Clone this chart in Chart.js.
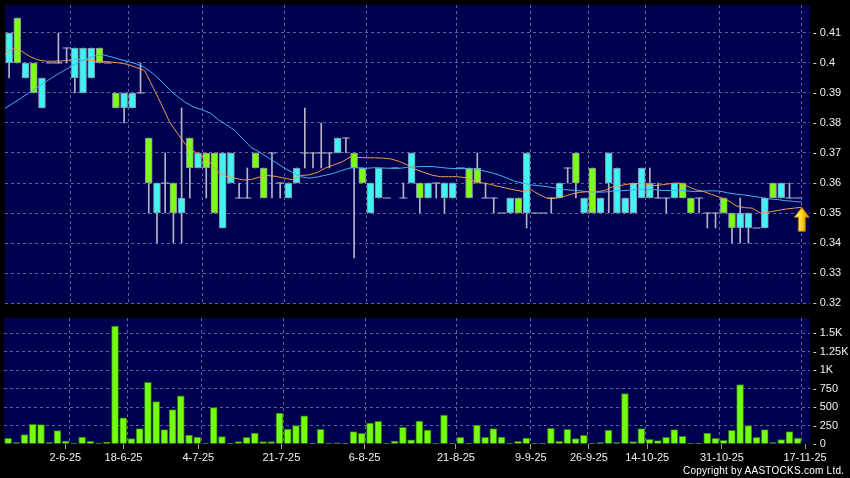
<!DOCTYPE html>
<html><head><meta charset="utf-8">
<script src="https://cdn.jsdelivr.net/npm/chart.js@4"></script>
<style>
html,body{margin:0;padding:0;background:#000;width:850px;height:478px;overflow:hidden;}
#wrap{position:relative;width:850px;height:478px;background:#000;}
canvas{position:absolute;left:0;}
#pc{top:0;}
#vc{top:310px;}
#copy{position:absolute;left:683px;top:465px;font:10px "Liberation Sans",Arial,sans-serif;color:#fff;letter-spacing:0.25px;white-space:nowrap;}
</style></head><body>
<div id="wrap">
<canvas id="pc" width="850" height="310"></canvas>
<canvas id="vc" width="850" height="168"></canvas>
<div id="copy">Copyright by AASTOCKS.com Ltd.</div>
</div>
<script>
// ---- data ----
const tickLabels = ['2-6-25','18-6-25','4-7-25','21-7-25','6-8-25','21-8-25','9-9-25','26-9-25','14-10-25','31-10-25','17-11-25'];
const tickCandles = [7,14,23,33,43,54,63,70,77,86,96];
const priceTicks = [0.32,0.33,0.34,0.35,0.36,0.37,0.38,0.39,0.40,0.41];
const volumeTicks = [0,250,500,750,1000,1250,1500];

const open = [.41,.40,.40,.39,.395,.40,.40,.405,.405,.405,
 .405,.40,.40,.385,.39,.39,.39,.36,.36,.36,
 .35,.355,.365,.37,.365,.35,.37,.37,.355,.355,
 .365,.355,.37,.36,.36,.365,.37,.37,.37,.37,
 .375,.375,.365,.36,.36,.365,.355,.365,.355,.37,
 .355,.36,.36,.36,.36,.365,.355,.36,.355,.355,
 .35,.355,.35,.37,.35,.35,.355,.36,.365,.36,
 .355,.35,.355,.37,.365,.355,.36,.365,.36,.355,
 .355,.36,.355,.35,.355,.35,.35,.35,.345,.35,
 .35,.345,.355,.355,.36,.355,.355];
const high = [.41,.415,.40,.40,.395,.40,.41,.405,.405,.405,
 .405,.405,.40,.39,.39,.39,.40,.375,.36,.37,
 .36,.385,.375,.37,.37,.37,.37,.37,.36,.365,
 .37,.365,.37,.36,.36,.365,.385,.37,.38,.37,
 .375,.375,.37,.365,.36,.365,.355,.365,.36,.37,
 .36,.36,.36,.36,.36,.365,.365,.37,.36,.355,
 .35,.355,.355,.37,.35,.35,.355,.36,.365,.37,
 .355,.365,.355,.37,.365,.355,.36,.365,.365,.36,
 .355,.36,.36,.355,.355,.35,.35,.355,.35,.355,
 .35,.345,.355,.36,.36,.36,.355];
const low = [.395,.40,.395,.39,.385,.40,.40,.40,.39,.39,
 .395,.40,.40,.385,.38,.385,.39,.35,.34,.35,
 .34,.34,.355,.365,.355,.35,.345,.36,.355,.355,
 .365,.355,.355,.355,.355,.36,.365,.365,.365,.365,
 .37,.37,.335,.36,.35,.355,.355,.365,.355,.36,
 .35,.355,.355,.35,.355,.365,.355,.36,.355,.35,
 .35,.35,.35,.345,.35,.35,.35,.355,.36,.355,
 .35,.35,.35,.35,.35,.35,.35,.355,.355,.355,
 .35,.355,.355,.35,.35,.345,.345,.35,.34,.34,
 .34,.345,.345,.355,.355,.355,.355];
const close = [.40,.415,.395,.40,.385,.40,.40,.405,.395,.39,
 .395,.405,.40,.39,.385,.385,.39,.375,.35,.36,
 .36,.35,.375,.365,.37,.37,.345,.36,.355,.355,
 .37,.365,.37,.36,.355,.36,.37,.37,.37,.37,
 .37,.375,.37,.365,.35,.355,.355,.365,.355,.36,
 .36,.355,.36,.355,.355,.365,.365,.365,.355,.355,
 .35,.35,.355,.35,.35,.35,.355,.355,.365,.37,
 .35,.365,.35,.36,.35,.35,.35,.355,.355,.355,
 .355,.355,.36,.355,.355,.35,.35,.355,.35,.345,
 .345,.345,.345,.36,.355,.355,.355];
const volume = [77,18,127,267,262,18,181,41,14,95,
 36,14,23,1596,353,72,208,836,574,194,
 466,651,122,95,4,493,99,8,32,90,
 149,32,32,420,203,250,380,10,198,10,
 15,10,167,145,285,307,4,40,226,55,
 312,190,10,393,10,90,4,258,90,208,
 95,10,35,80,4,4,212,35,200,72,
 117,4,18,190,18,683,32,208,63,45,
 90,194,104,4,4,149,77,50,185,805,
 249,90,194,18,59,167,80];
// moving averages sampled at each candle close (first entry = day before the first candle)
const maShort = [0.4030,0.4048,0.4040,0.4022,0.4010,0.4006,0.4006,0.4007,0.4010,0.4012,
 0.4010,0.4007,0.4005,0.4003,0.4000,0.3995,0.3985,0.3975,0.3920,0.3865,
 0.3805,0.3765,0.3728,0.3705,0.3690,0.3668,0.3635,0.3622,0.3616,0.3610,
 0.3612,0.3620,0.3625,0.3622,0.3616,0.3611,0.3625,0.3627,0.3635,0.3650,
 0.3660,0.3670,0.3686,0.3685,0.3684,0.3684,0.3683,0.3680,0.3672,0.3660,
 0.3645,0.3635,0.3626,0.3621,0.3621,0.3621,0.3618,0.3607,0.3601,0.3596,
 0.3589,0.3583,0.3577,0.3572,0.3578,0.3562,0.3549,0.3549,0.3555,0.3563,
 0.3569,0.3571,0.3571,0.3575,0.3588,0.3592,0.3597,0.3598,0.3597,0.3591,
 0.3594,0.3598,0.3600,0.3590,0.3578,0.3572,0.3562,0.3553,0.3542,0.3524,
 0.3518,0.3516,0.3499,0.3503,0.3508,0.3513,0.3516,0.3519];
const maLong = [0.3849,0.3866,0.3884,0.3902,0.3920,0.3938,0.3956,0.3972,0.3988,0.4003,
 0.4015,0.4024,0.4027,0.4020,0.4012,0.4005,0.3997,0.3985,0.3965,0.3940,
 0.3912,0.3888,0.3868,0.3853,0.3844,0.3833,0.3810,0.3793,0.3775,0.3745,
 0.3718,0.3703,0.3685,0.3668,0.3650,0.3635,0.3621,0.3616,0.3620,0.3626,
 0.3632,0.3642,0.3650,0.3651,0.3649,0.3651,0.3650,0.3649,0.3649,0.3652,
 0.3654,0.3655,0.3655,0.3652,0.3649,0.3648,0.3648,0.3646,0.3642,0.3636,
 0.3628,0.3618,0.3606,0.3600,0.3594,0.3591,0.3588,0.3583,0.3578,0.3576,
 0.3574,0.3571,0.3569,0.3570,0.3573,0.3574,0.3576,0.3579,0.3579,0.3578,
 0.3575,0.3575,0.3576,0.3574,0.3571,0.3573,0.3574,0.3573,0.3567,0.3563,
 0.3560,0.3556,0.3552,0.3547,0.3545,0.3541,0.3539,0.3536];

// ---- styles ----
const NAVY = '#000050', GRID = '#62629a', UP = '#7cff14', DOWN = '#40f4f4';
const WICK = '#b4b4c8', BODY_EDGE = '#8a8aa0', VOL = '#74ff10', VOL_EDGE = '#2f7a00';
const FONT = {family: '"Liberation Sans", Arial, sans-serif', size: 11};
Chart.defaults.font.family = FONT.family;

const N = close.length, SLOTS = N + 1;
const cx = i => i + 0.5;
const gridPos = tickCandles.map(c => c + 1);
const labelPos = tickCandles.map(c => (c + 1) * 1.0107 - 0.635);
const fmtPrice = v => '- ' + String(+v.toFixed(2));
const fmtVol = v => '- ' + (v >= 1000 ? String(+(v / 1000).toFixed(2)) + 'K' : String(v));
const noPad = s => { s.paddingTop = 0; s.paddingBottom = 0; s.paddingLeft = 0; s.paddingRight = 0; };

const bgPlugin = {id: 'bg', beforeDraw(chart) {
  const {ctx, chartArea: a} = chart; ctx.save();
  ctx.fillStyle = '#000'; ctx.fillRect(0, 0, chart.width, chart.height);
  ctx.fillStyle = NAVY; ctx.fillRect(a.left, a.top, a.right - a.left, a.bottom - a.top);
  ctx.restore();
}};
const arrowPlugin = {id: 'arrow', afterDatasetsDraw(chart) {
  const xs = chart.scales.x, ys = chart.scales.y, ctx = chart.ctx;
  const last = maShort.length - 1;
  const x = xs.getPixelForValue(last), y = ys.getPixelForValue(maShort[last]);
  ctx.save();
  const g = ctx.createLinearGradient(x - 7, 0, x + 7, 0);
  g.addColorStop(0, '#fff6a0'); g.addColorStop(0.5, '#ffd21a'); g.addColorStop(1, '#d88a00');
  ctx.beginPath();
  ctx.moveTo(x, y); ctx.lineTo(x + 7.5, y + 10); ctx.lineTo(x + 3.5, y + 10); ctx.lineTo(x + 3.5, y + 24);
  ctx.lineTo(x - 3.5, y + 24); ctx.lineTo(x - 3.5, y + 10); ctx.lineTo(x - 7.5, y + 10); ctx.closePath();
  ctx.fillStyle = g; ctx.fill(); ctx.strokeStyle = '#a86a00'; ctx.lineWidth = 1; ctx.stroke();
  ctx.restore();
}};

const idx = [...Array(N).keys()];
const wickData = idx.filter(i => high[i] > low[i]).map(i => ({x: cx(i), y: [low[i], high[i]]}));
const bodyData = idx.filter(i => open[i] !== close[i]).map(i => ({x: cx(i), y: [Math.min(open[i], close[i]), Math.max(open[i], close[i])], up: close[i] > open[i]}));
const dojiData = idx.filter(i => open[i] === close[i]).map(i => ({x: cx(i), y: close[i]}));

const gridX = (height) => ({
  type: 'linear', min: 0, max: SLOTS, position: 'bottom', offset: false,
  afterBuildTicks: s => { s.ticks = gridPos.map(v => ({value: v})); },
  ticks: {display: false}, grid: {color: GRID, drawTicks: false, lineWidth: 1, offset: false},
  border: {display: false, dash: [3, 3]}, afterFit: s => { s.height = height; noPad(s); }
});

new Chart(document.getElementById('pc'), {
  data: {datasets: [
    {type: 'line', data: maShort.map((v, i) => ({x: i, y: v})), borderColor: '#ee9a4c', borderWidth: 1, pointRadius: 0, tension: 0, order: 0},
    {type: 'line', data: maLong.map((v, i) => ({x: i, y: v})), borderColor: '#45b0f2', borderWidth: 1, pointRadius: 0, tension: 0, order: 1},
    {type: 'scatter', data: dojiData, pointStyle: 'line', pointRadius: 4, borderColor: WICK, borderWidth: 1, order: 2},
    {type: 'bar', data: bodyData, grouped: false, barThickness: 7, borderWidth: 1, borderSkipped: false,
     borderColor: BODY_EDGE, backgroundColor: c => (c.raw && c.raw.up) ? UP : DOWN, order: 3},
    {type: 'bar', data: wickData, grouped: false, barThickness: 1, borderWidth: 0, backgroundColor: WICK, order: 4}
  ]},
  options: {
    responsive: false, animation: false, devicePixelRatio: 1, events: [],
    layout: {padding: {left: 4, top: 5, right: 0, bottom: 6}},
    plugins: {legend: {display: false}, tooltip: {enabled: false}},
    scales: {
      x: gridX(0),
      y: {type: 'linear', position: 'right', min: 0.319667, max: 0.419333,
        afterBuildTicks: s => { s.ticks = priceTicks.map(v => ({value: v})); },
        ticks: {color: '#f0f0f0', font: FONT, padding: 3, autoSkip: false, callback: v => fmtPrice(v)},
        grid: {color: GRID, drawTicks: false}, border: {display: false, dash: [3, 3]},
        afterFit: s => { s.width = 40; noPad(s); }}
    }
  },
  plugins: [bgPlugin, arrowPlugin]
});

new Chart(document.getElementById('vc'), {
  data: {datasets: [
    {type: 'bar', data: volume.map((v, i) => ({x: cx(i), y: v})), grouped: false, barThickness: 7,
     backgroundColor: VOL, borderColor: VOL_EDGE, borderWidth: 1, borderSkipped: 'start'}
  ]},
  options: {
    responsive: false, animation: false, devicePixelRatio: 1, events: [],
    layout: {padding: {left: 4, top: 8, right: 0, bottom: 0}},
    plugins: {legend: {display: false}, tooltip: {enabled: false}},
    scales: {
      x: gridX(0),
      xl: {type: 'linear', min: 0, max: SLOTS, position: 'bottom', offset: false,
        afterBuildTicks: s => { s.ticks = labelPos.map(v => ({value: v})); },
        ticks: {color: '#f0f0f0', font: FONT, padding: 2, autoSkip: false, maxRotation: 0,
          callback: (v, i) => tickLabels[i]},
        grid: {drawOnChartArea: false, drawTicks: true, tickLength: 5, color: '#a0a0a0', offset: false},
        border: {display: false}, afterFit: s => { s.height = 34; noPad(s); }},
      y: {type: 'linear', position: 'right', min: 0, max: 1707,
        afterBuildTicks: s => { s.ticks = volumeTicks.map(v => ({value: v})); },
        ticks: {color: '#f0f0f0', font: FONT, padding: 3, autoSkip: false, callback: v => fmtVol(v)},
        grid: {color: c => c.tick && c.tick.value === 0 ? 'rgba(0,0,0,0)' : GRID, drawTicks: false},
        border: {display: false, dash: [3, 3]},
        afterFit: s => { s.width = 40; noPad(s); }}
    }
  },
  plugins: [bgPlugin]
});
</script>
</body></html>
